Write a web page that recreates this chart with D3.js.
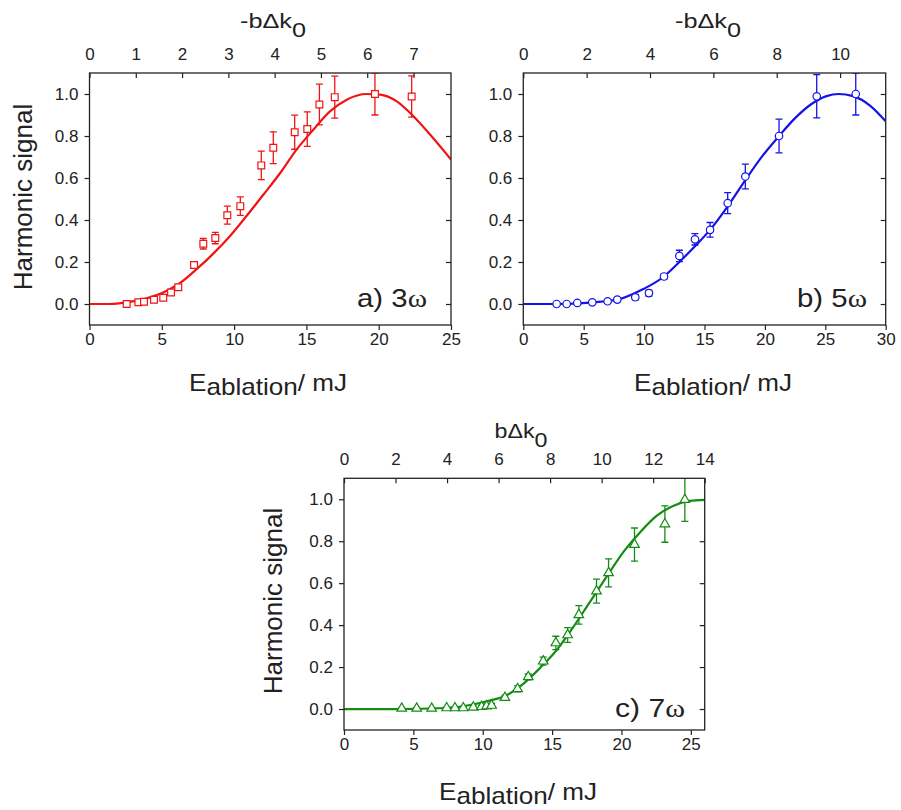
<!DOCTYPE html>
<html>
<head>
<meta charset="utf-8">
<script src="https://cdn.jsdelivr.net/npm/d3@7"></script>
<style>
  body { margin: 0; background: #fff; }
  text { font-family: "Liberation Sans", Arial, sans-serif; fill: #222; }
</style>
</head>
<body>
<script>
// ---- panel a) 3w ----
const aPtsE = [2.57, 3.38, 3.77, 4.46, 5.1, 5.64, 6.14, 7.23, 7.87, 8.7, 9.53, 10.43, 11.88, 12.71, 14.19, 15.06, 15.9, 16.96, 19.74, 22.28];
const aPtsV = [0, 0.008, 0.011, 0.02, 0.03, 0.055, 0.08, 0.186, 0.287, 0.314, 0.423, 0.466, 0.66, 0.744, 0.818, 0.833, 0.95, 0.985, 1.0, 0.988];
const aPtsErr = [0.003, 0.004, 0.004, 0.005, 0.006, 0.008, 0.01, 0.016, 0.025, 0.027, 0.043, 0.044, 0.068, 0.076, 0.081, 0.082, 0.097, 0.1, 0.1, 0.098];
const aFitE = [0, 1.4, 2.57, 3.95, 5.1, 6.26, 7.41, 8.56, 9.72, 10.87, 12.02, 13.2, 14.33, 15.48, 16.63, 17.79, 19.17, 20.1, 21.25, 22.4, 23.55, 25];
const aFitV = [0, 0, 0.008, 0.027, 0.055, 0.1, 0.166, 0.24, 0.324, 0.42, 0.52, 0.625, 0.736, 0.83, 0.917, 0.973, 1.0, 0.997, 0.965, 0.894, 0.807, 0.688];

// ---- panel b) 5w ----
const bPtsE = [2.76, 3.59, 4.47, 5.71, 6.98, 7.78, 9.27, 10.4, 11.65, 12.92, 14.21, 15.46, 16.92, 18.38, 21.17, 24.29, 27.52];
const bPtsV = [0, 0, 0.005, 0.008, 0.013, 0.021, 0.032, 0.052, 0.131, 0.229, 0.308, 0.353, 0.48, 0.607, 0.8, 0.989, 1.0];
const bPtsErr = [0.003, 0.003, 0.005, 0.006, 0.008, 0.009, 0.012, 0.014, 0.012, 0.027, 0.027, 0.035, 0.05, 0.059, 0.08, 0.103, 0.1];
const bFitE = [0, 2.76, 5.8, 8.0, 9.93, 11.65, 12.92, 14.21, 15.46, 16.92, 18.38, 19.8, 21.17, 22.5, 23.8, 25.1, 26.1, 27.3, 28.7, 30];
const bFitV = [0, 0, 0.008, 0.024, 0.071, 0.131, 0.2, 0.275, 0.353, 0.465, 0.59, 0.705, 0.8, 0.885, 0.95, 0.99, 1.0, 0.99, 0.945, 0.87];

// ---- panel c) 7w ----
const cPtsE = [4.16, 5.24, 6.32, 7.4, 8.0, 8.6, 9.32, 9.92, 10.28, 10.64, 11.6, 12.51, 13.28, 14.36, 15.27, 16.12, 16.93, 18.2, 19.07, 20.94, 23.13, 24.57];
const cPtsV = [0.003, 0.003, 0.003, 0.005, 0.005, 0.005, 0.008, 0.011, 0.014, 0.017, 0.054, 0.096, 0.153, 0.228, 0.315, 0.353, 0.449, 0.562, 0.649, 0.784, 0.882, 0.998];
const cPtsErr = [0.004, 0.004, 0.004, 0.004, 0.004, 0.005, 0.006, 0.006, 0.008, 0.01, 0.012, 0.014, 0.014, 0.019, 0.032, 0.035, 0.044, 0.057, 0.067, 0.079, 0.087, 0.103];
const cFitE = [0, 3.8, 7.4, 9.08, 10.5, 11.72, 12.92, 14.12, 15.32, 16.52, 17.72, 18.93, 20.12, 21.33, 22.53, 23.72, 24.93, 26];
const cFitV = [0, 0, 0.005, 0.019, 0.04, 0.066, 0.12, 0.195, 0.28, 0.39, 0.51, 0.631, 0.747, 0.842, 0.921, 0.968, 0.992, 0.997];

const yTicks = [0, 0.2, 0.4, 0.6, 0.8, 1.0];

const svg = d3.select('body').append('svg')
    .attr('width', 901)
    .attr('height', 810);

drawPanel({
    id: 'a', box: [89.5, 451, 73, 325], eMax: 25, topMax: 7.81,
    bottomTicks: [0, 5, 10, 15, 20, 25], topTicks: [0, 1, 2, 3, 4, 5, 6, 7],
    color: '#f01414', marker: 'square',
    ptsE: aPtsE, ptsV: aPtsV, ptsErr: aPtsErr, fitE: aFitE, fitV: aFitV,
    topTitle: '-bΔk', topTitleX: 273, topTitleY: 28, topTitleW: 66,
    botTitleX: 268, botTitleY: 391,
    yLabelX: 32, yLabelY: 197,
    note: 'a) 3', noteX: 357, noteY: 307
});

drawPanel({
    id: 'b', box: [523.3, 885.7, 73, 325], eMax: 30, topMax: 11.44,
    bottomTicks: [0, 5, 10, 15, 20, 25, 30], topTicks: [0, 2, 4, 6, 8, 10],
    color: '#1414e6', marker: 'circle',
    ptsE: bPtsE, ptsV: bPtsV, ptsErr: bPtsErr, fitE: bFitE, fitV: bFitV,
    topTitle: '-bΔk', topTitleX: 708, topTitleY: 28, topTitleW: 66,
    botTitleX: 713, botTitleY: 391,
    note: 'b) 5', noteX: 797, noteY: 307
});

drawPanel({
    id: 'c', box: [344, 704.7, 478.3, 730], eMax: 26, topMax: 14,
    bottomTicks: [0, 5, 10, 15, 20, 25], topTicks: [0, 2, 4, 6, 8, 10, 12, 14],
    color: '#148c14', marker: 'triangle',
    ptsE: cPtsE, ptsV: cPtsV, ptsErr: cPtsErr, fitE: cFitE, fitV: cFitV,
    topTitle: 'bΔk', topTitleX: 521, topTitleY: 438, topTitleW: 53,
    botTitleX: 518, botTitleY: 800,
    yLabelX: 282, yLabelY: 601,
    note: 'c) 7', noteX: 615, noteY: 717
});

function drawPanel(p) {
    const [x0, x1, y0, y1] = p.box;
    const x = d3.scaleLinear().domain([0, p.eMax]).range([x0, x1]);
    const xTop = d3.scaleLinear().domain([0, p.topMax]).range([x0, x1]);
    const y = d3.scaleLinear().domain([-0.1, 1.1]).range([y1, y0]);

    const g = svg.append('g');

    // axes
    const styleAxis = sel => {
        sel.select('.domain').remove();
        sel.selectAll('line').attr('stroke', '#222').attr('stroke-width', 1.2);
        sel.selectAll('text').attr('font-size', 17).attr('fill', '#222')
           .attr('font-family', '"Liberation Sans", Arial, sans-serif');
    };
    g.append('g').attr('transform', `translate(0,${y1})`)
        .call(d3.axisBottom(x).tickValues(p.bottomTicks).tickSize(5).tickPadding(3))
        .call(styleAxis);
    g.append('g').attr('transform', `translate(0,${y0})`)
        .call(d3.axisTop(xTop).tickValues(p.topTicks).tickSize(-5).tickPadding(13))
        .call(styleAxis);
    g.append('g').attr('transform', `translate(${x0},0)`)
        .call(d3.axisLeft(y).tickValues(yTicks).tickFormat(d3.format('.1f')).tickSize(5).tickPadding(6))
        .call(styleAxis);
    g.append('g').attr('transform', `translate(${x1},0)`)
        .call(d3.axisRight(y).tickValues(yTicks).tickFormat('').tickSize(-5))
        .call(styleAxis);

    // clip for data
    svg.append('clipPath').attr('id', 'clip-' + p.id)
        .append('rect').attr('x', x0).attr('y', y0).attr('width', x1 - x0).attr('height', y1 - y0);
    const plot = g.append('g').attr('clip-path', `url(#clip-${p.id})`);

    // fit curve
    const fit = p.fitE.map((e, i) => [e, p.fitV[i]]);
    plot.append('path')
        .datum(fit)
        .attr('fill', 'none')
        .attr('stroke', p.color)
        .attr('stroke-width', 2.2)
        .attr('d', d3.line().x(d => x(d[0])).y(d => y(d[1])).curve(d3.curveMonotoneX));

    const pts = p.ptsE.map((e, i) => ({ e, v: p.ptsV[i], err: p.ptsErr[i] }));

    // error bars
    const eb = plot.selectAll('.eb').data(pts).enter().append('g')
        .attr('stroke', p.color).attr('stroke-width', 1.3);
    eb.append('line')
        .attr('x1', d => x(d.e)).attr('x2', d => x(d.e))
        .attr('y1', d => y(d.v - d.err)).attr('y2', d => y(d.v + d.err));
    [-1, 1].forEach(s => {
        eb.append('line')
            .attr('x1', d => x(d.e) - 3.5).attr('x2', d => x(d.e) + 3.5)
            .attr('y1', d => y(d.v + s * d.err)).attr('y2', d => y(d.v + s * d.err));
    });

    // markers
    const symType = { square: d3.symbolSquare, circle: d3.symbolCircle, triangle: d3.symbolTriangle }[p.marker];
    const symSize = { square: 46, circle: 44, triangle: 40 }[p.marker];
    plot.selectAll('.pt').data(pts).enter().append('path')
        .attr('transform', d => `translate(${x(d.e)},${y(d.v)})`)
        .attr('d', d3.symbol().type(symType).size(symSize))
        .attr('fill', '#fff')
        .attr('stroke', p.color)
        .attr('stroke-width', 1.2);

    // frame
    g.append('rect')
        .attr('x', x0).attr('y', y0)
        .attr('width', x1 - x0).attr('height', y1 - y0)
        .attr('fill', 'none').attr('stroke', '#222').attr('stroke-width', 1.3);

    // top title
    const tt = g.append('text')
        .attr('x', p.topTitleX).attr('y', p.topTitleY)
        .attr('text-anchor', 'middle').attr('font-size', 21)
        .attr('textLength', p.topTitleW).attr('lengthAdjust', 'spacingAndGlyphs');
    tt.append('tspan').text(p.topTitle);
    tt.append('tspan').attr('dy', 9).text('0');

    // bottom title
    const bt = g.append('text')
        .attr('x', p.botTitleX).attr('y', p.botTitleY)
        .attr('text-anchor', 'middle').attr('font-size', 24)
        .attr('textLength', 158).attr('lengthAdjust', 'spacingAndGlyphs');
    bt.append('tspan').text('E');
    bt.append('tspan').attr('dy', 4).text('ablation');
    bt.append('tspan').attr('dy', -4).text('/ mJ');

    // y label
    if (p.yLabelX) {
        g.append('text')
            .attr('transform', `translate(${p.yLabelX},${p.yLabelY}) rotate(-90)`)
            .attr('text-anchor', 'middle').attr('font-size', 26)
            .text('Harmonic signal');
    }

    // panel note
    const nt = g.append('text')
        .attr('x', p.noteX).attr('y', p.noteY)
        .attr('font-size', 25)
        .attr('textLength', 70).attr('lengthAdjust', 'spacingAndGlyphs');
    nt.append('tspan').text(p.note);
    nt.append('tspan').attr('font-family', '"Liberation Serif", "Times New Roman", serif').text('ω');
}
</script>
</body>
</html>
